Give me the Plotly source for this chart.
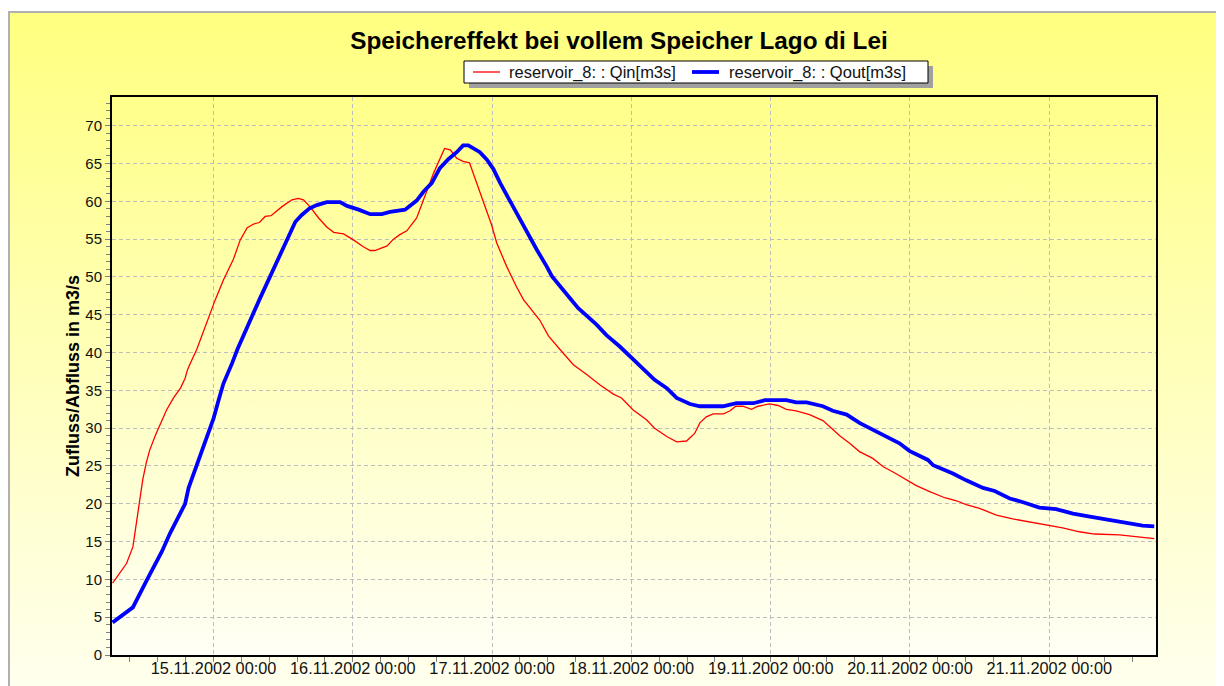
import base64
import pandas as pd
import plotly.graph_objects as go

# ---------------- data ----------------
chart_title = "Speichereffekt bei vollem Speicher Lago di Lei"
y_title = "Zufluss/Abfluss in m3/s"
series_names = ["reservoir_8: : Qin[m3s]", "reservoir_8: : Qout[m3s]"]
series_colors = ["#ff0000", "#0000ff"]
series_widths = [1.3, 3.8]
time_origin = "2002-11-15 00:00"

# hours relative to 15.11.2002 00:00
qin_hours = [-17.4, -15.0, -13.9, -13.5, -13.0, -12.5, -12.2, -11.6, -11.0, -10.0,
             -9.2, -8.1, -6.9, -5.7, -4.9, -4.5, -4.0, -2.9, 0.3, 1.7,
             3.4, 4.6, 5.8, 6.9, 7.9, 8.9, 9.9, 11.8, 13.5, 14.6,
             15.5, 16.6, 18.1, 19.5, 20.7, 21.8, 22.4, 24.1, 25.8, 27.0,
             27.8, 29.9, 31.0, 32.1, 33.3, 35.0, 36.4, 37.9, 39.8, 40.8,
             41.9, 43.0, 44.1, 45.9, 47.9, 48.8, 50.5, 52.2, 53.4, 56.2,
             57.7, 59.7, 62.0, 64.3, 66.6, 68.9, 70.3, 72.3, 74.6, 76.0,
             78.1, 79.8, 81.5, 82.9, 83.8, 84.9, 86.1, 87.9, 89.0, 90.0,
             91.2, 92.7, 93.8, 95.8, 97.3, 98.7, 100.4, 102.7, 105.0, 106.2,
             107.9, 109.6, 111.3, 113.6, 115.4, 117.1, 119.9, 121.1, 123.4, 126.0,
             128.0, 129.7, 132.0, 134.9, 137.7, 140.6, 143.5, 146.3, 149.2, 151.8,
             156.1, 158.4, 160.7, 162.1]
qin_values = [9.5, 12.1, 14.3, 16.5, 19.2, 21.8, 23.2, 25.4, 27.1, 29.1,
              30.4, 32.4, 34.0, 35.3, 36.6, 37.7, 38.6, 40.4, 47.0, 49.6,
              52.3, 54.9, 56.5, 57.0, 57.2, 58.0, 58.1, 59.3, 60.2, 60.4,
              60.2, 59.3, 57.8, 56.6, 55.9, 55.8, 55.7, 54.9, 54.0, 53.5,
              53.5, 54.1, 55.0, 55.6, 56.1, 57.8, 60.6, 63.7, 67.0, 66.8,
              65.7, 65.3, 65.1, 61.1, 56.9, 54.5, 51.4, 48.7, 47.0, 44.3,
              42.2, 40.4, 38.4, 37.1, 35.7, 34.5, 34.0, 32.4, 31.1, 30.0,
              28.9, 28.2, 28.3, 29.3, 30.7, 31.5, 31.9, 31.9, 32.3, 32.9,
              32.9, 32.5, 32.9, 33.2, 33.0, 32.5, 32.3, 31.8, 31.0, 30.2,
              29.0, 28.0, 26.9, 26.0, 24.9, 24.2, 22.9, 22.4, 21.6, 20.8,
              20.4, 19.9, 19.4, 18.5, 18.0, 17.6, 17.1, 16.8, 16.3, 16.0,
              15.9, 15.7, 15.5, 15.4]

qout_hours = [-17.4, -14.9, -13.9, -11.5, -8.9, -7.5, -4.9, -4.3, -2.9, -1.1,
              0.0, 0.9, 1.7, 3.2, 4.1, 7.9, 9.8, 11.8, 13.2, 14.1,
              15.2, 16.6, 17.8, 19.5, 21.8, 23.0, 25.0, 27.0, 29.0, 30.4,
              33.0, 35.0, 36.2, 37.6, 39.0, 40.5, 41.9, 43.0, 43.9, 45.9,
              47.1, 48.2, 49.4, 51.1, 53.4, 55.7, 57.4, 58.3, 60.0, 62.8,
              66.0, 67.7, 70.0, 72.9, 74.3, 76.0, 78.1, 79.8, 82.1, 83.8,
              87.8, 90.1, 93.0, 95.0, 98.7, 100.4, 102.2, 105.0, 106.7, 109.1,
              111.3, 113.6, 115.9, 118.2, 119.9, 123.1, 124.0, 127.4, 129.7, 132.6,
              134.6, 137.2, 139.5, 142.3, 145.2, 148.1, 151.0, 153.8, 157.3, 160.1,
              162.1]
qout_values = [4.3, 5.7, 6.3, 9.9, 13.7, 16.1, 20.0, 22.1, 25.1, 28.7,
               31.3, 33.8, 35.9, 38.6, 40.4, 47.0, 50.1, 53.4, 55.6, 57.3,
               58.2, 59.1, 59.5, 59.9, 59.9, 59.4, 58.9, 58.3, 58.3, 58.6,
               58.9, 60.1, 61.3, 62.4, 64.4, 65.6, 66.5, 67.4, 67.4, 66.5,
               65.5, 64.3, 62.4, 60.0, 56.7, 53.6, 51.4, 50.1, 48.5, 45.9,
               43.7, 42.3, 40.8, 38.6, 37.7, 36.4, 35.3, 34.0, 33.2, 32.9,
               32.9, 33.3, 33.3, 33.7, 33.7, 33.4, 33.4, 32.9, 32.3, 31.8,
               30.7, 29.8, 28.9, 28.0, 27.0, 25.8, 25.1, 24.0, 23.1, 22.1,
               21.7, 20.7, 20.2, 19.5, 19.3, 18.7, 18.3, 17.9, 17.4, 17.1,
               17.0]

x_range_hours = [-17.5, 162.4]
y_range = [0, 73.8]

# ---------------- layout helpers (page has an 8px body margin) ----------------
OFF = 8
W, H = 1224 - OFF, 686 - OFF
L, R, T, B = 112 - OFF, 1156 - OFF, 97 - OFF, 655 - OFF
PW, PH = R - L, B - T


def px(X):  # X in screen pixels
    return (X - OFF - L) / PW


def py(Y):  # Y in screen pixels
    return (B - (Y - OFF)) / PH


def gradient(top, bottom):
    svg = ("<svg xmlns='http://www.w3.org/2000/svg' width='100' height='100' "
           "viewBox='0 0 100 100' preserveAspectRatio='none'><defs>"
           "<linearGradient id='g' x1='0' y1='0' x2='0' y2='1'>"
           f"<stop offset='0' stop-color='{top}'/><stop offset='1' stop-color='{bottom}'/>"
           "</linearGradient></defs><rect width='100' height='100' fill='url(#g)'/></svg>")
    return "data:image/svg+xml;base64," + base64.b64encode(svg.encode()).decode()


origin = pd.Timestamp(time_origin)
qin_x = origin + pd.to_timedelta(qin_hours, unit="h")
qout_x = origin + pd.to_timedelta(qout_hours, unit="h")
xr = [origin + pd.Timedelta(hours=h) for h in x_range_hours]

FONT = "Arial, Liberation Sans, sans-serif"

fig = go.Figure()
fig.add_trace(go.Scatter(x=qin_x, y=qin_values, mode="lines", name=series_names[0],
                         line=dict(color=series_colors[0], width=series_widths[0])))
fig.add_trace(go.Scatter(x=qout_x, y=qout_values, mode="lines", name=series_names[1],
                         line=dict(color=series_colors[1], width=series_widths[1])))

# custom legend box (framed, with drop shadow)
leg_shapes = [
    dict(type="rect", xref="paper", yref="paper", x0=px(469), x1=px(933),
         y0=py(88), y1=py(66), line=dict(width=0), fillcolor="#a0a0a0", layer="above"),
    dict(type="rect", xref="paper", yref="paper", x0=px(464), x1=px(928),
         y0=py(83), y1=py(61), line=dict(color="black", width=1), fillcolor="white",
         layer="above"),
]
leg_annots = []
sample_x = [473, 692]
text_x = [507, 727]
for i in range(2):
    leg_shapes.append(dict(type="line", xref="paper", yref="paper",
                           x0=px(sample_x[i]), x1=px(sample_x[i] + 27),
                           y0=py(72), y1=py(72),
                           line=dict(color=series_colors[i], width=series_widths[i]),
                           layer="above"))
    leg_annots.append(dict(text=series_names[i], xref="paper", yref="paper",
                           x=px(text_x[i]), y=py(72.5), xanchor="left", yanchor="middle",
                           showarrow=False, font=dict(size=16.5, color="#111111", family=FONT)))

fig.update_layout(
    width=W, height=H,
    margin=dict(l=L, r=W - R, t=T, b=H - B, pad=0),
    paper_bgcolor="white",
    plot_bgcolor="rgba(0,0,0,0)",
    font=dict(family=FONT, color="#111111", size=16),
    title=dict(text="<b>" + chart_title + "</b>", x=(619 - OFF) / W, y=1 - (40 - OFF) / H,
               xref="container", yref="container", xanchor="center", yanchor="middle",
               font=dict(size=24.3, color="black", family=FONT)),
    showlegend=False,
    images=[
        dict(source=gradient("#ffff80", "#fffff0"), xref="paper", yref="paper",
             x=px(9), y=py(12), sizex=px(1240) - px(9), sizey=py(12) - py(700),
             sizing="stretch", xanchor="left", yanchor="top", layer="below"),
        dict(source=gradient("#ffff8a", "#fffff6"), xref="paper", yref="paper",
             x=0, y=1, sizex=1, sizey=1,
             sizing="stretch", xanchor="left", yanchor="top", layer="below"),
    ],
    shapes=[
        dict(type="rect", xref="paper", yref="paper", x0=px(9), x1=px(1300),
             y0=py(760), y1=py(12), line=dict(color="#b0b0b0", width=2),
             fillcolor="rgba(0,0,0,0)", layer="below"),
    ] + leg_shapes,
    annotations=leg_annots,
)

fig.update_xaxes(
    type="date", range=xr, automargin=False,
    showline=True, linecolor="black", linewidth=2, mirror=True,
    showgrid=True, gridcolor="#bdbdbd", griddash="4px,3px", gridwidth=1,
    tick0=time_origin, dtick=86400000, tickformat="%d.%m.%Y %H:%M",
    ticks="outside", ticklen=5, tickcolor="#808080", tickwidth=1,
    ticklabelstandoff=-8,
    tickfont=dict(size=16.3, color="#111111"),
    minor=dict(dtick=17280000, tick0=time_origin, ticks="outside", ticklen=5,
               tickcolor="#808080", showgrid=False),
    zeroline=False,
)
fig.update_yaxes(
    range=y_range, automargin=False,
    showline=True, linecolor="black", linewidth=2, mirror=True,
    showgrid=True, gridcolor="#bdbdbd", griddash="4px,3px", gridwidth=1,
    tick0=0, dtick=5,
    ticks="outside", ticklen=5, tickcolor="#808080", tickwidth=1,
    tickfont=dict(size=15, color="#111111"),
    minor=dict(dtick=1, ticks="outside", ticklen=4, tickcolor="#808080", showgrid=False),
    zeroline=False,
    title=dict(text="<b>" + y_title + "</b>", standoff=1,
               font=dict(size=18, color="black", family=FONT)),
)

fig.write_html("out.html")
